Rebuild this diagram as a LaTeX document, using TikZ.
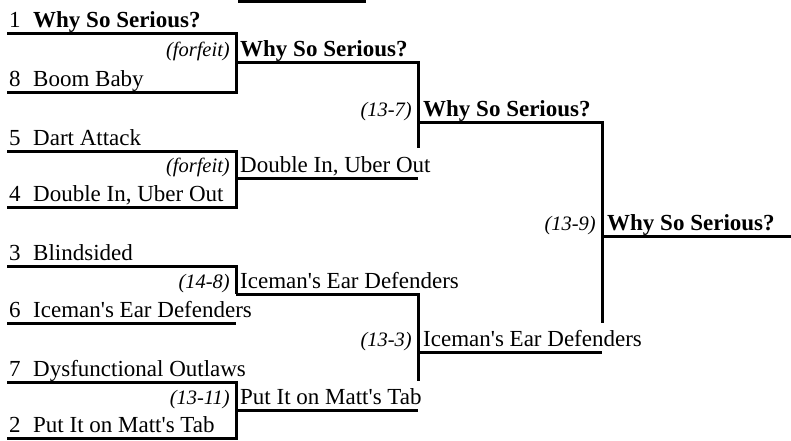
\documentclass[tikz,border=0pt]{standalone}
\usepackage{fontspec}
\setmainfont{Liberation Serif}[Ligatures=TeXOff]

\begin{document}
\begin{tikzpicture}[x=1pt, y=-1pt,
	bar/.style={line width=3pt},
	team/.style={anchor=base west, inner sep=0pt, font=\fontsize{23}{27}\selectfont},
	winner/.style={team, font=\fontsize{23}{27}\selectfont\bfseries},
	seed/.style={team},
	score/.style={anchor=base east, inner sep=0pt, font=\fontsize{20.5}{24}\selectfont\itshape}]
	\useasboundingbox (0,0) rectangle (791,440);
	\coordinate (top1) at (238,1.5);
	\coordinate (top2) at (366,1.5);
	\coordinate (a1) at (7,33);
	\coordinate (a8) at (7,92);
	\coordinate (a5) at (7,151);
	\coordinate (a4) at (7,207);
	\coordinate (a3) at (7,266);
	\coordinate (a6) at (7,323);
	\coordinate (a7) at (7,382);
	\coordinate (a2) at (7,438);
	\coordinate (b1) at (236,62);
	\coordinate (b2) at (236,178);
	\coordinate (b3) at (236,294);
	\coordinate (b4) at (236,410);
	\coordinate (bstop) at (418,148);
	\coordinate (c1) at (418,122);
	\coordinate (c2) at (418,352);
	\coordinate (cstop) at (418,381);
	\coordinate (d1) at (602,236);
	\coordinate (d2) at (791,236);
	\coordinate (dstop) at (602,323);
	\draw[bar] (top1)--(top2);
	\draw[bar] (a1) -| (b1 |- a8) -- (a8);
	\draw[bar] (a5) -| (b2 |- a4) -- (a4);
	\draw[bar] (a3) -| (b3);
	\draw[bar] (a6) -- (a6 -| b3);
	\draw[bar] (a7) -| (b4 |- a2) -- (a2);
	\draw[bar] (b1) -| (bstop);
	\draw[bar] (b2) -- (b2 -| c1);
	\draw[bar] (b3) -| (cstop);
	\draw[bar] (b4) -- (b4 -| c2);
	\draw[bar] (c1) -| (dstop);
	\draw[bar] (c2) -- (c2 -| d1);
	\draw[bar] (d1)--(d2);
	\node[seed] (n1) at (9,27) {1};
	\node[winner] (t1) at (33,27) {Why So Serious?};
	\node[seed] (n8) at (9,86) {8};
	\node[team] (t8) at (33,86) {Boom Baby};
	\node[seed] (n5) at (9,145) {5};
	\node[team] (t5) at (33,145) {Dart Attack};
	\node[seed] (n4) at (9,201) {4};
	\node[team] (t4) at (33,201) {Double In, Uber Out};
	\node[seed] (n3) at (9,260) {3};
	\node[team] (t3) at (33,260) {Blindsided};
	\node[seed] (n6) at (9,317) {6};
	\node[team] (t6) at (33,317) {Iceman's Ear Defenders};
	\node[seed] (n7) at (9,376) {7};
	\node[team] (t7) at (33,376) {Dysfunctional Outlaws};
	\node[seed] (n2) at (9,432) {2};
	\node[team] (t2) at (33,432) {Put It on Matt's Tab};
	\node[score] (s1) at (230,56) {(forfeit)};
	\node[winner] (w1) at (240,56) {Why So Serious?};
	\node[score] (s2) at (230,172) {(forfeit)};
	\node[team] (w2) at (240,172) {Double In, Uber Out};
	\node[score] (s3) at (230,288) {(14-8)};
	\node[team] (w3) at (240,288) {Iceman's Ear Defenders};
	\node[score] (s4) at (230,404) {(13-11)};
	\node[team] (w4) at (240,404) {Put It on Matt's Tab};
	\node[score] (s5) at (412,116) {(13-7)};
	\node[winner] (w5) at (423,116) {Why So Serious?};
	\node[score] (s6) at (412,346) {(13-3)};
	\node[team] (w6) at (423,346) {Iceman's Ear Defenders};
	\node[score] (s7) at (596,230) {(13-9)};
	\node[winner] (w7) at (607,230) {Why So Serious?};
\end{tikzpicture}
\end{document}
